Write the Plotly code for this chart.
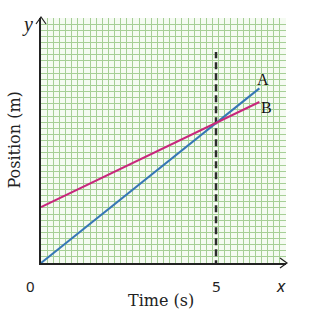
import plotly.graph_objects as go

# Data
t_A = [0, 6.24]
pos_A = [0, 4.99]
t_B = [0, 6.24]
pos_B = [1.6, 4.6]
line_names = ["A", "B"]
dash_t = [5, 5]
dash_pos = [-0.12, 6.03]
x_ticks = [0, 5]
x_ticklabels = ["0", "5"]

X_MAX = 7.0
Y_MAX = 7.0
N_CELLS = 40

fig = go.Figure()

fig.add_trace(go.Scatter(x=dash_t, y=dash_pos, mode="lines",
                         line=dict(color="#2b2b2b", width=2.5, dash="7px,4px"),
                         showlegend=False, hoverinfo="skip", cliponaxis=False))
fig.add_trace(go.Scatter(x=t_A, y=pos_A, mode="lines",
                         line=dict(color="#3677b5", width=2), showlegend=False))
fig.add_trace(go.Scatter(x=t_B, y=pos_B, mode="lines",
                         line=dict(color="#c8277c", width=2), showlegend=False))

serif = "DejaVu Serif"
anns = []
# line labels
anns.append(dict(x=t_A[-1], y=pos_A[-1], text=line_names[0], showarrow=False,
                 xanchor="left", yanchor="bottom", xshift=-4, yshift=-2,
                 font=dict(family="Liberation Serif", size=16, color="#111")))
anns.append(dict(x=t_B[-1], y=pos_B[-1], text=line_names[1], showarrow=False,
                 xanchor="left", yanchor="middle", xshift=0, yshift=-5,
                 font=dict(family="Liberation Serif", size=16, color="#111")))
# tick labels
for v, lab in zip(x_ticks, x_ticklabels):
    anns.append(dict(x=v, y=0, text=lab, showarrow=False,
                     xanchor="center", yanchor="top",
                     xshift=(-11 if v == 0 else 0), yshift=-11,
                     font=dict(family="Noto Sans", size=15, color="#222")))
# axis letters
anns.append(dict(x=X_MAX, y=0, text="<i>x</i>", showarrow=False,
                 xanchor="center", yanchor="top", xshift=-5, yshift=-9,
                 font=dict(family="Noto Sans", size=17, color="#222")))
anns.append(dict(x=0, y=Y_MAX, text="<i>y</i>", showarrow=False,
                 xanchor="right", yanchor="middle", xshift=-6, yshift=-6,
                 font=dict(family="Liberation Serif", size=20, color="#222")))
# axis titles
anns.append(dict(x=0.49, xref="paper", y=0, yref="paper", text="Time (s)",
                 showarrow=False, xanchor="center", yanchor="middle", yshift=-37,
                 font=dict(family=serif, size=16, color="#222")))
anns.append(dict(x=0, xref="paper", y=0.5, yref="paper", text="Position (m)",
                 showarrow=False, xanchor="center", yanchor="middle", xshift=-27,
                 textangle=-90, font=dict(family=serif, size=16, color="#222")))

# arrowheads drawn in paper coordinates
plot_w, plot_h = 245, 245
ax_w = 5 / plot_w
ay_h = 5 / plot_h
shapes = [
    dict(type="path", xref="paper", yref="paper",
         path=f"M {-ax_w} {1 - 6/plot_h} L 0 {1 + 1/plot_h} L {ax_w} {1 - 6/plot_h}",
         line=dict(color="#222", width=1.2)),
    dict(type="path", xref="paper", yref="paper",
         path=f"M {1 - 6/plot_w} {ay_h} L {1 + 1/plot_w} 0 L {1 - 6/plot_w} {-ay_h}",
         line=dict(color="#222", width=1.2)),
]

fig.update_layout(
    width=316, height=315,
    margin=dict(l=41, r=30, t=18, b=52),
    paper_bgcolor="white",
    plot_bgcolor="#f5fbf2",
    annotations=anns,
    shapes=shapes,
    showlegend=False,
)
grid_d = X_MAX / N_CELLS
fig.update_xaxes(range=[0, X_MAX], dtick=grid_d, tick0=0, showgrid=True,
                 gridcolor="#a6cf96", gridwidth=1, showticklabels=False,
                 showline=True, linecolor="#222", linewidth=1.6, zeroline=False,
                 ticks="", fixedrange=True)
fig.update_yaxes(range=[0, Y_MAX], dtick=Y_MAX / N_CELLS, tick0=0, showgrid=True,
                 gridcolor="#a6cf96", gridwidth=1, showticklabels=False,
                 showline=True, linecolor="#222", linewidth=1.6, zeroline=False,
                 ticks="", fixedrange=True)

fig.write_html("out.html")
